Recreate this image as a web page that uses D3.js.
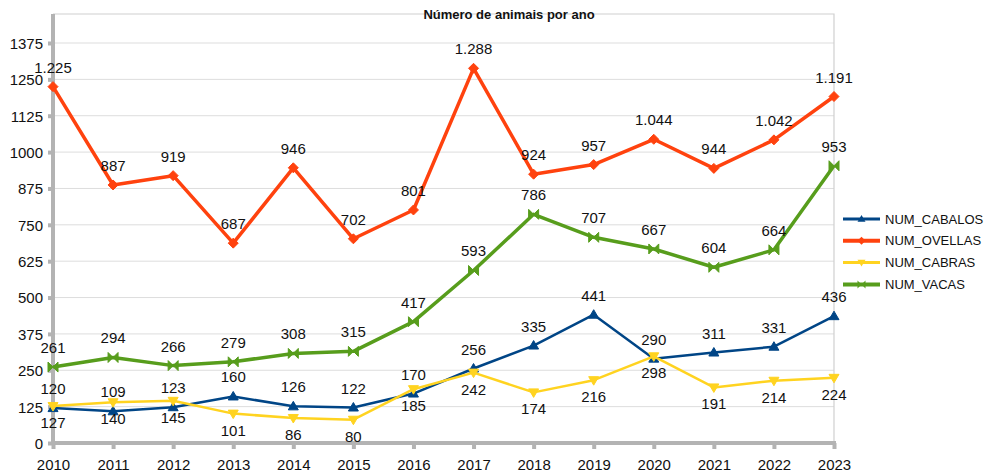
<!DOCTYPE html>
<html lang="gl">
<head>
<meta charset="utf-8">
<title>Número de animais por ano</title>
<script src="https://cdn.jsdelivr.net/npm/d3@7"></script>
<style>
  body { margin: 0; background: #fff; }
  text { font-family: "Liberation Sans", Arial, sans-serif; fill: #111; }
  .grid line { stroke: #ddd; stroke-width: 1; }
</style>
</head>
<body>
<script>
  // data
  const years = [2010, 2011, 2012, 2013, 2014, 2015, 2016, 2017, 2018, 2019, 2020, 2021, 2022, 2023];
  const cabalos = [120, 109, 123, 160, 126, 122, 170, 256, 335, 441, 290, 311, 331, 436];
  const ovellas = [1225, 887, 919, 687, 946, 702, 801, 1288, 924, 957, 1044, 944, 1042, 1191];
  const cabras = [127, 140, 145, 101, 86, 80, 185, 242, 174, 216, 298, 191, 214, 224];
  const vacas = [261, 294, 266, 279, 308, 315, 417, 593, 786, 707, 667, 604, 664, 953];
  const yTicks = [0, 125, 250, 375, 500, 625, 750, 875, 1000, 1125, 1250, 1375];

  const series = [
    {name: "NUM_CABALOS", values: cabalos, color: "#004586", width: 2.5, sym: "up", pos: "above"},
    {name: "NUM_OVELLAS", values: ovellas, color: "#ff420e", width: 3.5, sym: "diamond", pos: "above"},
    {name: "NUM_CABRAS", values: cabras, color: "#ffd320", width: 2.5, sym: "down", pos: "below"},
    {name: "NUM_VACAS", values: vacas, color: "#579d1c", width: 3.5, sym: "bowtie", pos: "above"}
  ];

  const width = 986, height = 475;
  const plot = {left: 53, right: 834, top: 14, bottom: 443};

  const fmt = d3.formatLocale({decimal: ",", thousands: ".", grouping: [3], currency: ["", "€"]}).format(",d");

  const x = d3.scalePoint().domain(years).range([plot.left, plot.right]);
  const y = d3.scaleLinear().domain([0, 1375]).range([plot.bottom, 43]);

  const svg = d3.select("body").append("svg")
    .attr("width", width)
    .attr("height", height);

  // horizontal gridlines
  svg.append("g").attr("class", "grid")
    .selectAll("line")
    .data(yTicks.slice(1))
    .join("line")
    .attr("x1", plot.left).attr("x2", plot.right)
    .attr("y1", d => y(d)).attr("y2", d => y(d));

  // frame (top + right)
  svg.append("path")
    .attr("d", `M${plot.left},${plot.top}H${plot.right}V${plot.bottom}`)
    .attr("fill", "none")
    .attr("stroke", "#d0d0d0")
    .attr("stroke-width", 1.2);

  // title
  svg.append("text")
    .attr("x", 509).attr("y", 18.5)
    .attr("text-anchor", "middle")
    .style("font-size", "13px")
    .style("font-weight", "bold")
    .text("Número de animais por ano");

  // y axis
  const yAxis = svg.append("g")
    .attr("transform", `translate(${plot.left},0)`)
    .call(d3.axisLeft(y).tickValues(yTicks).tickSize(5).tickPadding(5).tickFormat(d3.format("d")));
  yAxis.select(".domain").remove();
  yAxis.append("line")
    .attr("x1", 0).attr("x2", 0)
    .attr("y1", plot.top).attr("y2", plot.bottom + 2)
    .attr("stroke", "#b3b3b3").attr("stroke-width", 4);
  yAxis.selectAll(".tick line").attr("stroke", "#b3b3b3").attr("stroke-width", 4);
  yAxis.selectAll(".tick text")
    .style("font-size", "15px")
    .attr("font-family", null)
    .attr("dy", "0.36em");

  // x axis
  const xAxis = svg.append("g")
    .attr("transform", `translate(0,${plot.bottom})`)
    .call(d3.axisBottom(x).tickSize(6).tickPadding(10).tickFormat(d3.format("d")));
  xAxis.select(".domain").remove();
  xAxis.append("line")
    .attr("x1", plot.left - 2).attr("x2", plot.right + 2)
    .attr("y1", 0).attr("y2", 0)
    .attr("stroke", "#b3b3b3").attr("stroke-width", 4);
  xAxis.selectAll(".tick line").attr("stroke", "#b3b3b3").attr("stroke-width", 4);
  xAxis.selectAll(".tick text")
    .style("font-size", "15px")
    .attr("font-family", null);

  // marker shapes
  function marker(sym, s) {
    if (sym === "up") return `M0,${-s}L${s},${s * 0.7}L${-s},${s * 0.7}Z`;
    if (sym === "down") return `M0,${s}L${s},${-s * 0.7}L${-s},${-s * 0.7}Z`;
    if (sym === "diamond") return `M0,${-s}L${s},0L0,${s}L${-s},0Z`;
    return `M${-s},${-s}L0,0L${-s},${s}Z M${s},${-s}L0,0L${s},${s}Z`;
  }

  const line = d3.line().x((d, i) => x(years[i])).y(d => y(d));

  const g = svg.append("g");
  series.forEach(s => {
    g.append("path")
      .attr("d", line(s.values))
      .attr("fill", "none")
      .attr("stroke", s.color)
      .attr("stroke-width", s.width)
      .attr("stroke-linejoin", "round");
    g.append("g")
      .selectAll("path")
      .data(s.values)
      .join("path")
      .attr("transform", (d, i) => `translate(${x(years[i])},${y(d)})`)
      .attr("d", marker(s.sym, 5))
      .attr("fill", s.color)
      .attr("stroke", s.color)
      .attr("stroke-width", 1);
  });

  // data labels
  series.forEach(s => {
    svg.append("g")
      .selectAll("text")
      .data(s.values)
      .join("text")
      .attr("x", (d, i) => x(years[i]))
      .attr("y", d => s.pos === "above" ? y(d) - 14 : y(d) + 22)
      .attr("text-anchor", "middle")
      .style("font-size", "15px")
      .text(d => fmt(d));
  });

  // legend
  const legend = svg.append("g")
    .selectAll("g")
    .data(series)
    .join("g")
    .attr("transform", (d, i) => `translate(843,${219 + i * 21.8})`);
  legend.append("line")
    .attr("x1", 0).attr("x2", 37)
    .attr("stroke", d => d.color)
    .attr("stroke-width", d => d.width + 0.5);
  legend.append("path")
    .attr("transform", "translate(18.5,0)")
    .attr("d", d => marker(d.sym, 4))
    .attr("fill", d => d.color);
  legend.append("text")
    .attr("x", 42).attr("dy", "0.35em")
    .style("font-size", "13px")
    .text(d => d.name);
</script>
</body>
</html>
